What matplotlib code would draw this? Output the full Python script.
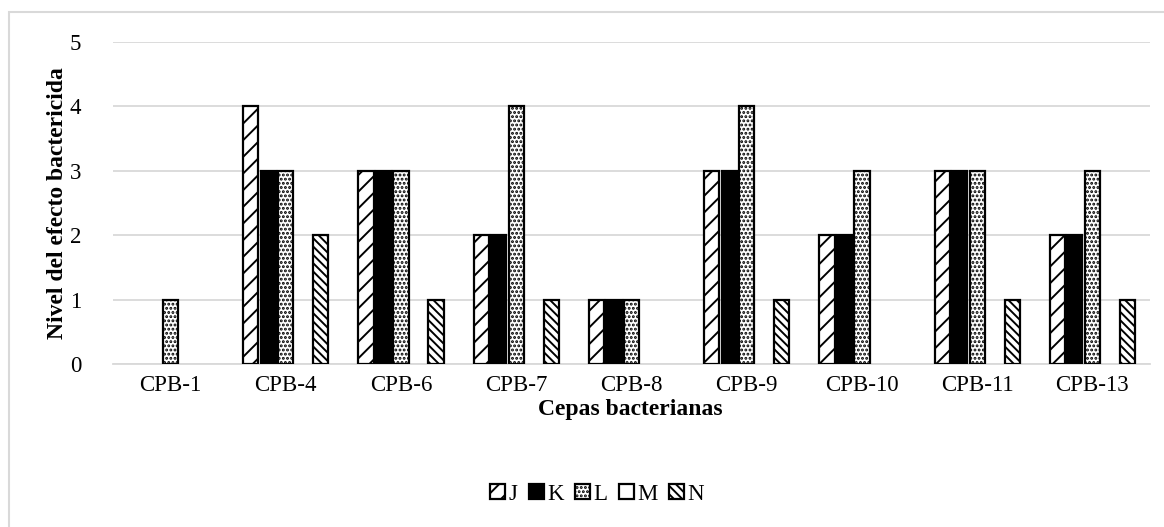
import matplotlib
matplotlib.use("Agg")
import matplotlib.pyplot as plt
import numpy as np
from matplotlib.patches import Rectangle, Patch

categories = ["CPB-1", "CPB-4", "CPB-6", "CPB-7", "CPB-8", "CPB-9", "CPB-10", "CPB-11", "CPB-13"]
series_names = ["J", "K", "L", "M", "N"]
J = [0, 4, 3, 2, 1, 3, 2, 3, 2]
K = [0, 3, 3, 2, 1, 3, 2, 3, 2]
L = [1, 3, 3, 4, 1, 4, 3, 3, 3]
M = [0, 0, 0, 0, 0, 0, 0, 0, 0]
N = [0, 2, 1, 1, 0, 1, 0, 1, 1]
values = [J, K, L, M, N]
yticks = [0, 1, 2, 3, 4, 5]

plt.rcParams['font.family'] = ['Liberation Serif', 'DejaVu Serif']
plt.rcParams['hatch.linewidth'] = 1.4

fig = plt.figure(figsize=(11.64, 5.27), dpi=100)
ax = fig.add_axes([113/1164, 1-364/527, (1150-113)/1164, (364-42)/527])

styles = [
    dict(facecolor="white", hatch="//"),
    dict(facecolor="black", hatch=None),
    dict(facecolor="white", hatch="...."),
    dict(facecolor="white", hatch=None),
    dict(facecolor="white", hatch="\\\\\\\\"),
]
x = np.arange(len(categories))
pitch = 0.152
bw = 0.132
for i, (name, vals) in enumerate(zip(series_names, values)):
    offs = (i - 2) * pitch
    lws = [1.6 if v > 0 else 0 for v in vals]
    bars = ax.bar(x + offs, vals, width=bw, edgecolor="black", linewidth=lws,
                  label=name, zorder=3, **styles[i])
    for b, v in zip(bars, vals):
        if v == 0:
            b.set_visible(False)

ax.set_xlim(-0.5, len(categories) - 0.5)
ax.set_ylim(0, 5)
ax.set_yticks(yticks)
ax.set_xticks(x)
ax.set_xticklabels(categories, fontsize=16.5)
ax.tick_params(axis='y', labelsize=16.5, length=0, pad=23)
ax.tick_params(axis='x', length=0, pad=8)
for s in ["top", "right", "left"]:
    ax.spines[s].set_visible(False)
ax.spines["bottom"].set_color("#d9d9d9")
ax.spines["bottom"].set_linewidth(1.3)
ax.grid(axis='y', color="#d9d9d9", linewidth=1.3, zorder=0)
ax.set_axisbelow(True)

ax.set_ylabel("Nivel del efecto bactericida", fontsize=17, fontweight="bold")
ax.yaxis.set_label_coords((68-113)/(1150-113), 0.5)
fig.text(630/1164, 1-409/527, "Cepas bacterianas", fontsize=17, fontweight="bold",
         ha="center", va="center")

handles = [Patch(edgecolor="black", linewidth=1.6, **styles[i]) for i in range(5)]
fig.legend(handles, series_names, loc="center", bbox_to_anchor=(597/1164, 1-494/527),
           ncol=5, frameon=False, fontsize=16.5, handlelength=0.65, handleheight=0.65,
           handletextpad=0.15, columnspacing=0.5)

fig.add_artist(Rectangle((9/1164, -0.1), 1.2, 1-12/527 + 0.1, transform=fig.transFigure,
                         fill=False, edgecolor="#d9d9d9", linewidth=1.5))

fig.savefig("out.png", dpi=100)
